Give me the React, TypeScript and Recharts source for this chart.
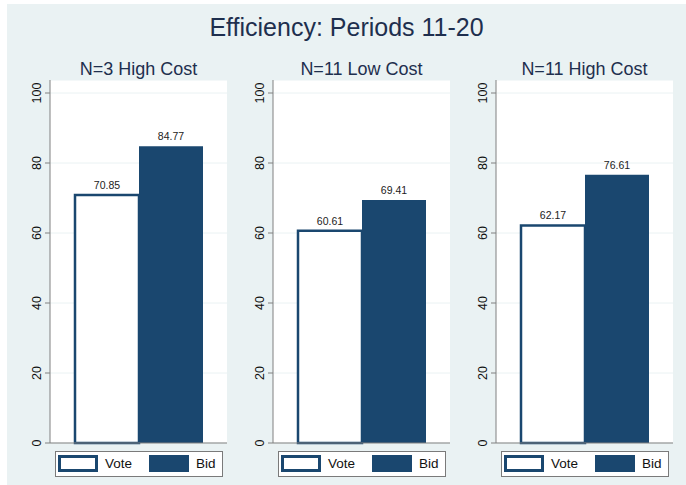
import React from 'react';
import { BarChart, Bar, XAxis, YAxis, CartesianGrid, LabelList } from 'recharts';

const panelTitles = ['N=3 High Cost', 'N=11 Low Cost', 'N=11 High Cost'];
const voteValues = [70.85, 60.61, 62.17];
const bidValues = [84.77, 69.41, 76.61];
const yTicks = [0, 20, 40, 60, 80, 100];
const seriesNames = ['Vote', 'Bid'];

const NAVY = '#1A476F';
const AXIS = '#808080';
const BG = '#EAF2F3';
const TITLE = '#1E2F4E';
const FONT = '"Liberation Sans", Arial, sans-serif';

const axisXs = [50, 273, 496];
const plotWidth = 177;

const RotTick = (props: any) => {
    const { x, y, payload } = props;
    return (
        <text
            x={x}
            y={y}
            transform={`rotate(-90 ${x} ${y})`}
            textAnchor="middle"
            dy="0.35em"
            fontSize={12.5}
            fill="#111"
        >
            {payload.value}
        </text>
    );
};

const PanelLegend = ({ axisX }: { axisX: number }) => {
    return (
        <div style={{
            position: 'absolute',
            left: axisX + 5,
            top: 451,
            width: 168,
            height: 26,
            boxSizing: 'border-box',
            border: '1px solid #7a7a7a',
            background: 'white',
        }}>
            <div style={{
                position: 'absolute', left: 2, top: 3, width: 40, height: 17,
                boxSizing: 'border-box', border: `3.5px solid ${NAVY}`, background: 'white',
            }} />
            <div style={{ position: 'absolute', left: 49, top: 4, fontSize: 13.5, lineHeight: '16px', color: '#111' }}>
                {seriesNames[0]}
            </div>
            <div style={{
                position: 'absolute', left: 93, top: 3, width: 40, height: 17, background: NAVY,
            }} />
            <div style={{ position: 'absolute', left: 140, top: 4, fontSize: 13.5, lineHeight: '16px', color: '#111' }}>
                {seriesNames[1]}
            </div>
        </div>
    );
};

const Panel = ({ index }: { index: number }) => {
    const axisX = axisXs[index];
    const data = [{ name: panelTitles[index], vote: voteValues[index], bid: bidValues[index] }];
    return (
        <>
            <div style={{
                position: 'absolute',
                left: axisX,
                width: plotWidth,
                top: 60,
                textAlign: 'center',
                fontSize: 18,
                lineHeight: '18px',
                color: TITLE,
                whiteSpace: 'nowrap',
            }}>
                {panelTitles[index]}
            </div>
            <div style={{ position: 'absolute', left: axisX - 50, top: 0 }}>
                <BarChart
                    width={50 + plotWidth}
                    height={460}
                    data={data}
                    margin={{ top: 80, right: 0, left: 0, bottom: 16 }}
                    barSize={64}
                    barGap={0}
                >
                    <CartesianGrid fill="white" vertical={false} stroke={BG} />
                    <XAxis dataKey="name" tick={false} tickLine={false} height={1} axisLine={{ stroke: AXIS }} />
                    <YAxis
                        domain={[0, 100]}
                        ticks={yTicks}
                        interval={0}
                        padding={{ top: 13, bottom: 0 }}
                        width={50}
                        tickSize={5}
                        tickMargin={8.5}
                        tick={<RotTick />}
                        axisLine={{ stroke: AXIS }}
                        tickLine={{ stroke: AXIS }}
                    />
                    <Bar dataKey="vote" fill="white" stroke={NAVY} strokeWidth={2.5} isAnimationActive={false}>
                        <LabelList dataKey="vote" position="top" offset={6} fontSize={10.5} fill="#222" />
                    </Bar>
                    <Bar dataKey="bid" fill={NAVY} isAnimationActive={false}>
                        <LabelList dataKey="bid" position="top" offset={6} fontSize={10.5} fill="#222" />
                    </Bar>
                </BarChart>
            </div>
            <PanelLegend axisX={axisX} />
        </>
    );
};

const App = () => {
    return (
        <div style={{
            position: 'absolute', left: 0, top: 0, width: 686, height: 485,
            background: 'white', fontFamily: FONT, overflow: 'hidden',
        }}>
            <div style={{ position: 'absolute', left: 7, top: 4, width: 679, height: 481, background: BG }} />
            <div style={{
                position: 'absolute', left: 7, width: 679, top: 15, textAlign: 'center',
                fontSize: 25, lineHeight: '25px', color: TITLE,
            }}>
                Efficiency: Periods 11-20
            </div>
            {panelTitles.map((_, i) => <Panel key={i} index={i} />)}
        </div>
    );
};

export default App;
